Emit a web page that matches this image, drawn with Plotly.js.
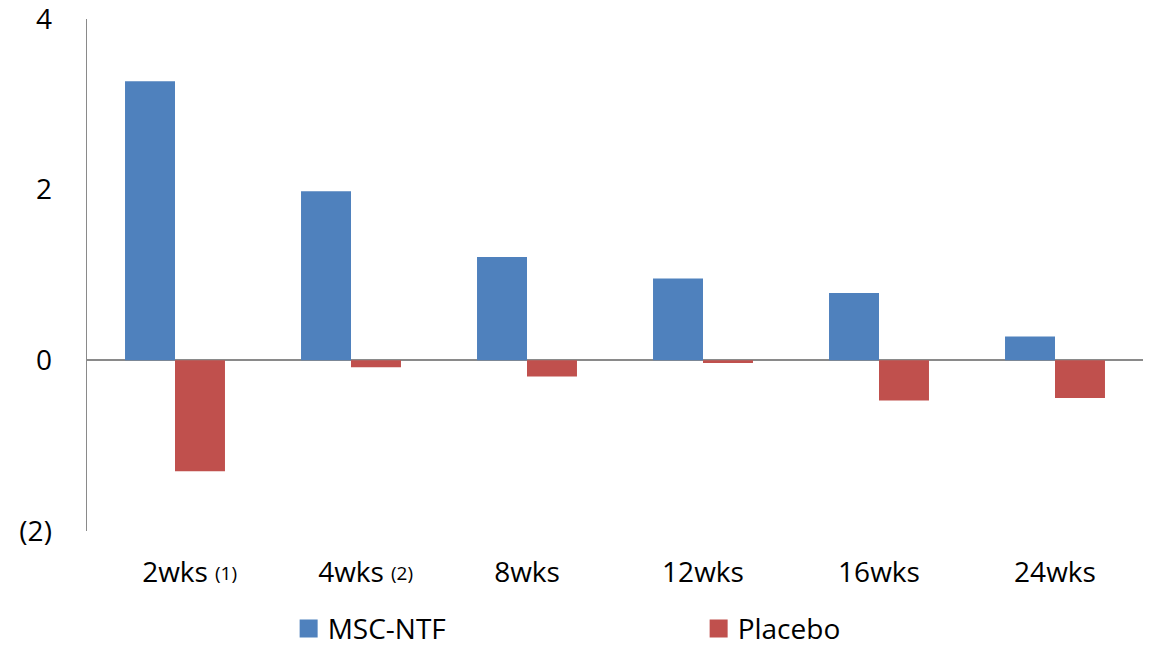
<!DOCTYPE html>
<html>
<head>
<meta charset="utf-8">
<script src="https://cdn.plot.ly/plotly-3.0.1.min.js"></script>
<style>
  html, body { margin: 0; padding: 0; background: #ffffff; }
  #chart { width: 1150px; height: 648px; }
</style>
</head>
<body>
<div id="chart"></div>
<script>
// Change from baseline by visit
const visits = ['2wks', '4wks', '8wks', '12wks', '16wks', '24wks'];
const mscNtf = [3.27, 1.98, 1.21, 0.96, 0.79, 0.28];
const placebo = [-1.30, -0.08, -0.19, -0.03, -0.47, -0.44];
const seriesNames = ['MSC-NTF', 'Placebo'];

// Y axis ticks (negative values shown in parentheses)
const yTickVals = [-2, 0, 2, 4];
const yTickText = ['(2)', '0', '2', '4'];

// Footnote markers attached to the first two visit labels
const footnoteVisits = ['2wks', '4wks'];
const footnoteText = ['(1)', '(2)'];

const FONT = '"Open Sans", "Liberation Sans", sans-serif';

const traces = [
  {
    type: 'bar',
    name: seriesNames[0],
    x: visits,
    y: mscNtf,
    marker: { color: '#4F81BD' },
    hoverinfo: 'x+y+name'
  },
  {
    type: 'bar',
    name: seriesNames[1],
    x: visits,
    y: placebo,
    marker: { color: '#C0504D' },
    hoverinfo: 'x+y+name'
  }
];

const annotations = footnoteVisits.map((v, i) => ({
  xref: 'x',
  yref: 'paper',
  x: v,
  xshift: 51,
  y: -0.082,
  yanchor: 'middle',
  xanchor: 'center',
  text: footnoteText[i],
  showarrow: false,
  font: { family: FONT, size: 19, color: '#000000' }
}));

const layout = {
  width: 1150,
  height: 648,
  margin: { l: 87, r: 7, t: 19, b: 117, pad: 0, autoexpand: false },
  paper_bgcolor: '#ffffff',
  plot_bgcolor: '#ffffff',
  barmode: 'group',
  bargap: 0.432,
  bargroupgap: 0,
  font: { family: FONT, size: 28, color: '#000000' },
  xaxis: {
    type: 'category',
    showgrid: false,
    showline: false,
    zeroline: false,
    ticks: '',
    ticklabelstandoff: 22,
    tickfont: { family: FONT, size: 28, color: '#000000' }
  },
  yaxis: {
    range: [-2, 4],
    tickvals: yTickVals,
    ticktext: yTickText,
    showgrid: false,
    showline: true,
    linecolor: '#8a8a8a',
    linewidth: 1.5,
    zeroline: true,
    zerolinecolor: '#8a8a8a',
    zerolinewidth: 2,
    ticks: '',
    ticklabelstandoff: 28,
    ticklabeloverflow: 'allow',
    tickfont: { family: FONT, size: 28, color: '#000000' }
  },
  showlegend: true,
  legend: {
    orientation: 'h',
    x: 0.19,
    xanchor: 'left',
    y: -0.191,
    yanchor: 'middle',
    entrywidth: 365,
    entrywidthmode: 'pixels',
    font: { family: FONT, size: 28, color: '#000000' },
    bgcolor: 'rgba(0,0,0,0)',
    borderwidth: 0,
    traceorder: 'normal'
  },
  annotations: annotations
};

Plotly.newPlot('chart', traces, layout, { displayModeBar: false, staticPlot: true }).then(() => {
  // Larger square legend swatches, set a little closer to the series names
  document.querySelectorAll('.legend .legendpoints path').forEach(p => {
    p.removeAttribute('transform');
    p.setAttribute('d', 'M30,9H12V-9H30Z');
  });
});
</script>
</body>
</html>
